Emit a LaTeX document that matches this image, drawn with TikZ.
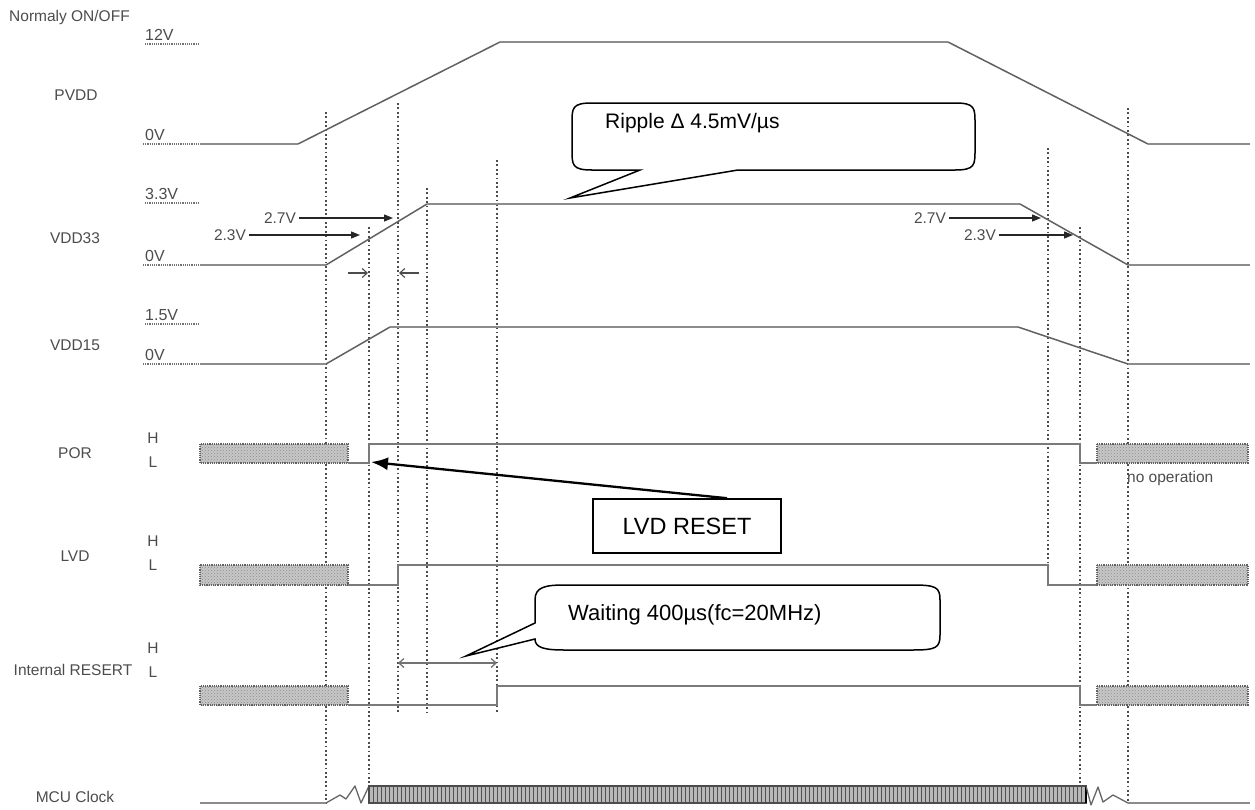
\documentclass[tikz,border=0pt]{standalone}
\usepackage{fontspec}
\setmainfont{Liberation Sans}
\usetikzlibrary{arrows.meta,patterns}
\begin{document}
\begin{tikzpicture}[x=1pt,y=-1pt,
  lbl/.style={font=\fontsize{15.5}{17}\selectfont, text=black!70, inner sep=0pt},
  vlbl/.style={font=\fontsize{16}{18}\selectfont, text=black!70, inner sep=0pt, anchor=south west},
  tlbl/.style={font=\fontsize{15.5}{17}\selectfont, text=black!70, inner sep=0pt},
  lvl/.style={draw=black!55, densely dotted, line width=1.2pt},
  flat/.style={draw=black!45, line width=2.8pt},
  ramp/.style={draw=black!62, line width=1.5pt},
  sig/.style={draw=black!52, line width=1.9pt, line join=miter},
  guide/.style={draw=black!70, line width=1.5pt, dash pattern=on 1.8pt off 2.6pt},
  hatchbox/.style={draw=black!62, densely dotted, line width=1.2pt, preaction={fill=black!22}, pattern=crosshatch dots, pattern color=black!45},
  vtip/.style={-{Triangle[length=9pt,width=7pt]}, draw=black!85, line width=1.3pt},
  otip/.style={-{Straight Barb[length=5pt,width=9pt]}, draw=black!70, line width=1.1pt},
  call/.style={draw=black, line width=1.5pt, fill=white, line join=miter},
  ctext/.style={inner sep=0pt, anchor=west, text=black}
]
\useasboundingbox (0,0) rectangle (1255,809);

% ---------- signal names ----------
\node[lbl, anchor=west] (nonoff) at (9,17) {Normaly ON/OFF};
\node[lbl] (npvdd) at (76,95) {PVDD};
\node[lbl] (nvdd33) at (75,238) {VDD33};
\node[lbl] (nvdd15) at (75,345) {VDD15};
\node[lbl] (npor) at (75,453) {POR};
\node[lbl] (nlvd) at (75,556) {LVD};
\node[lbl] (nir) at (73,670) {Internal RESERT};
\node[lbl] (nmcu) at (75,797) {MCU Clock};

\node[lbl] (porH) at (153,438) {H};
\node[lbl] (porL) at (153,462) {L};
\node[lbl] (lvdH) at (153,541) {H};
\node[lbl] (lvdL) at (153,565) {L};
\node[lbl] (irH) at (153,648) {H};
\node[lbl] (irL) at (153,672) {L};

% ---------- level marks ----------
\node[vlbl] (v12) at (145,41) {12V};
\draw[lvl] (145,44) -- (200,44);
\node[vlbl] (v0a) at (145,141) {0V};
\draw[lvl] (143,144) -- (200,144);
\node[vlbl] (v33) at (145,200) {3.3V};
\draw[lvl] (145,203) -- (200,203);
\node[vlbl] (v0b) at (145,262) {0V};
\draw[lvl] (143,265) -- (200,265);
\node[vlbl] (v15) at (145,321) {1.5V};
\draw[lvl] (145,324) -- (200,324);
\node[vlbl] (v0c) at (145,361) {0V};
\draw[lvl] (143,364) -- (200,364);

% ---------- guide lines ----------
\draw[guide] (326,112) -- (326,803);
\draw[guide] (369,227) -- (369,785);
\draw[guide] (398,103) -- (398,713);
\draw[guide] (427,188) -- (427,713);
\draw[guide] (497,160) -- (497,713);
\draw[guide] (1048,148) -- (1048,585);
\draw[guide] (1080,227) -- (1080,785);
\draw[guide] (1128,108) -- (1128,803);

% ---------- PVDD ----------
\draw[flat] (200,144) -- (298,144);
\draw[ramp] (298,144) -- (500,42);
\draw[flat] (500,42) -- (948,42);
\draw[ramp] (948,42) -- (1148,144);
\draw[flat] (1148,144) -- (1250,144);

% ---------- VDD33 ----------
\draw[flat] (200,265) -- (326,265);
\draw[ramp] (326,265) -- (427,204);
\draw[flat] (427,204) -- (1020,204);
\draw[ramp] (1020,204) -- (1128,265);
\draw[flat] (1128,265) -- (1250,265);

% ---------- VDD15 ----------
\draw[flat] (200,364) -- (326,364);
\draw[ramp] (326,364) -- (390,327);
\draw[flat] (390,327) -- (1018,327);
\draw[ramp] (1018,327) -- (1128,364);
\draw[flat] (1128,364) -- (1250,364);

% ---------- threshold arrows ----------
\node[tlbl] (l27a) at (280,218) {2.7V};
\coordinate (p27a) at (393,218);
\draw[vtip] (l27a.east) ++(3,0) -- (p27a);
\node[tlbl] (l23a) at (230,235) {2.3V};
\coordinate (p23a) at (360,235);
\draw[vtip] (l23a.east) ++(3,0) -- (p23a);

\node[tlbl] (l27b) at (930,218) {2.7V};
\coordinate (p27b) at (1041,218);
\draw[vtip] (l27b.east) ++(3,0) -- (p27b);
\node[tlbl] (l23b) at (980,235) {2.3V};
\coordinate (p23b) at (1073,235);
\draw[vtip] (l23b.east) ++(3,0) -- (p23b);

\coordinate (sa1) at (348,273); \coordinate (sa2) at (368,273);
\coordinate (sb1) at (419,273); \coordinate (sb2) at (399,273);
\draw[otip] (sa1) -- (sa2);
\draw[otip] (sb1) -- (sb2);

% ---------- POR ----------
\draw[hatchbox] (200,444) rectangle (348,463);
\draw[sig] (348,463) -- (369,463) -- (369,444) -- (1080,444) -- (1080,463) -- (1097,463);
\draw[hatchbox] (1097,444) rectangle (1248,463);
\node[tlbl, anchor=west] (noop) at (1127,478) {no operation};

% ---------- LVD ----------
\draw[hatchbox] (200,565) rectangle (348,585);
\draw[sig] (348,585) -- (398,585) -- (398,565) -- (1048,565) -- (1048,585) -- (1097,585);
\draw[hatchbox] (1097,565) rectangle (1248,585);

% ---------- Internal RESERT ----------
\draw[hatchbox] (200,686) rectangle (348,705);
\draw[sig] (348,705) -- (497,705) -- (497,686) -- (1080,686) -- (1080,705) -- (1097,705);
\draw[hatchbox] (1097,686) rectangle (1248,705);

% ---------- MCU clock ----------
\draw[flat, line width=2.4pt] (200,803) -- (326,803);
\draw[draw=black!60, line width=1.3pt, line join=round] (326,803) -- (340,795) -- (346,799) -- (355,786) -- (361,803) -- (369,786);
\fill[black!28] (369,786) rectangle (1086,803);
\foreach \i in {0,...,179} { \draw[black!68, line width=0.8pt] ({369+4*\i},786) -- ++(0,17); }
\draw[black!70, line width=1.3pt] (369,786) rectangle (1086,803);
\draw[black, line width=2pt] (1086,786) -- (1086,803);
\draw[draw=black!60, line width=1.3pt, line join=round] (1086,786) -- (1091,805) -- (1098,787) -- (1103,802) -- (1113,795) -- (1128,803);
\draw[flat, line width=2.4pt] (1128,803) -- (1250,803);

% ---------- Ripple callout ----------
\draw[call] (640,170) -- (570,198) -- (738,170) -- (955,170)
  .. controls (975,170) and (975,165) .. (975,150) -- (975,123)
  .. controls (975,108) and (975,103) .. (955,103) -- (592,103)
  .. controls (572,103) and (572,108) .. (572,123) -- (572,150)
  .. controls (572,165) and (572,170) .. (592,170) -- cycle;
\node[ctext, font=\fontsize{21}{24}\selectfont] (ripple) at (605,123) {Ripple Δ 4.5mV/µs};

% ---------- LVD RESET ----------
\node[draw=black, line width=1.6pt, minimum width=188pt, minimum height=54pt, inner sep=0pt, font=\fontsize{23.5}{26}\selectfont] (lvdbox) at (687,526) {LVD RESET};
\coordinate (portip) at (371,462);
\draw[-{Latex[length=17pt,width=13pt]}, line width=2.3pt] ([xshift=40pt]lvdbox.north) -- (portip);

% ---------- Waiting callout ----------
\draw[call] (535,623) -- (466,656) -- (535,639)
  .. controls (535,648) and (545,650) .. (565,650) -- (912,650)
  .. controls (936,650) and (940,648) .. (940,635) -- (940,600)
  .. controls (940,587) and (936,585) .. (912,585) -- (565,585)
  .. controls (545,585) and (535,587) .. (535,600) -- cycle;
\node[ctext, font=\fontsize{22}{25}\selectfont] (wait) at (568,615) {Waiting 400µs(fc=20MHz)};
\coordinate (w1) at (398,663); \coordinate (w2) at (497,663);
\draw[{Straight Barb[length=5pt,width=9pt]}-{Straight Barb[length=5pt,width=9pt]}, draw=black!55, line width=1.3pt] (w1) -- (w2);

\end{tikzpicture}
\end{document}
